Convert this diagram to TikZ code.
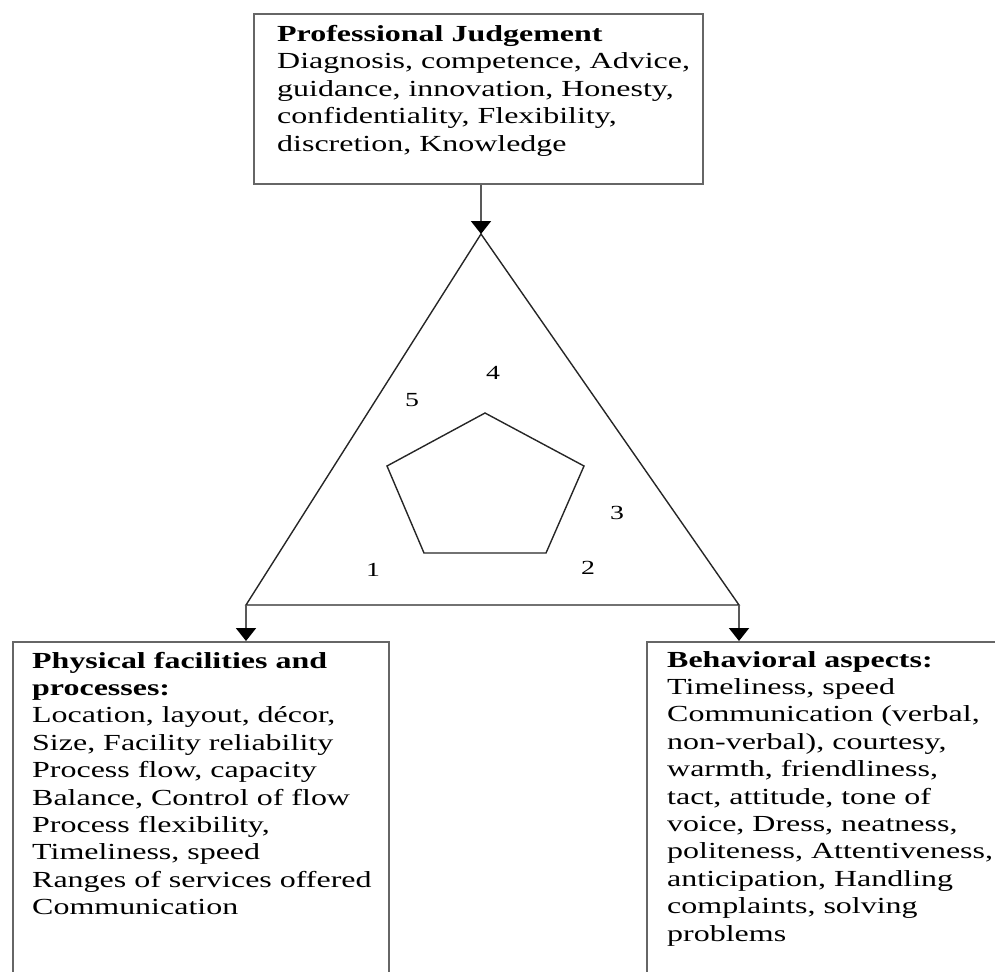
\documentclass[tikz,border=0pt]{standalone}
\usepackage{fontspec}
\setmainfont{Liberation Serif}[FakeStretch=1.39]
\usetikzlibrary{arrows.meta}
\begin{document}
\begin{tikzpicture}[x=1pt,y=-1pt,
  boxnode/.style={draw=black!60, line width=2pt, rectangle, anchor=north west, inner sep=0pt},
  txt/.style={anchor=base west, inner sep=0pt, font=\fontsize{23}{27.4}\selectfont},
  num/.style={inner sep=0pt, font=\fontsize{20}{22}\selectfont},
  geom/.style={line width=1.4pt, draw=black!85, line join=miter},
  arr/.style={line width=2pt, draw=black!65, -{Triangle[width=20pt,length=13pt,color=black]}}
]
\useasboundingbox (0,0) rectangle (995,971);
\clip (0,0) rectangle (995,971);

% boxes
\node[boxnode, minimum width=449pt, minimum height=170pt] (top) at (253,13) {};
\node[boxnode, minimum width=376pt, minimum height=420pt] (lbox) at (12,641) {};
\node[boxnode, minimum width=420pt, minimum height=420pt] (rbox) at (646,641) {};

% texts
\node[txt] (ttext) at (277,41.5) {\parbox[t]{440pt}{\raggedright
\textbf{Professional Judgement}\\
Diagnosis, competence, Advice,\\
guidance, innovation, Honesty,\\
confidentiality, Flexibility,\\
discretion, Knowledge}};

\node[txt] (ltext) at (32,668) {\parbox[t]{400pt}{\raggedright
\textbf{Physical facilities and}\\
\textbf{processes:}\\
Location, layout, décor,\\
Size, Facility reliability\\
Process flow, capacity\\
Balance, Control of flow\\
Process flexibility,\\
Timeliness, speed\\
Ranges of services offered\\
Communication}};

\node[txt] (rtext) at (667,667) {\parbox[t]{400pt}{\raggedright
\textbf{Behavioral aspects:}\\
Timeliness, speed\\
Communication (verbal,\\
non-verbal), courtesy,\\
warmth, friendliness,\\
tact, attitude, tone of\\
voice, Dress, neatness,\\
politeness, Attentiveness,\\
anticipation, Handling\\
complaints, solving\\
problems}};

% triangle
\coordinate (apex) at (481,234);
\coordinate (bl) at (246,605);
\coordinate (br) at (739,605);
\draw[geom] (apex) -- (bl) -- (br) -- cycle;

% pentagon
\draw[geom] (485,413) -- (584,466) -- (546,553) -- (424,553) -- (387,466) -- cycle;

% numbers
\node[num] (n4) at (493,373) {4};
\node[num] (n5) at (412,400) {5};
\node[num] (n3) at (617,513) {3};
\node[num] (n1) at (373,570) {1};
\node[num] (n2) at (588,568) {2};

% arrows
\draw[arr] (apex |- top.south) -- (apex);
\draw[arr] (bl) -- (bl |- lbox.north);
\draw[arr] (br) -- (br |- rbox.north);
\end{tikzpicture}
\end{document}
